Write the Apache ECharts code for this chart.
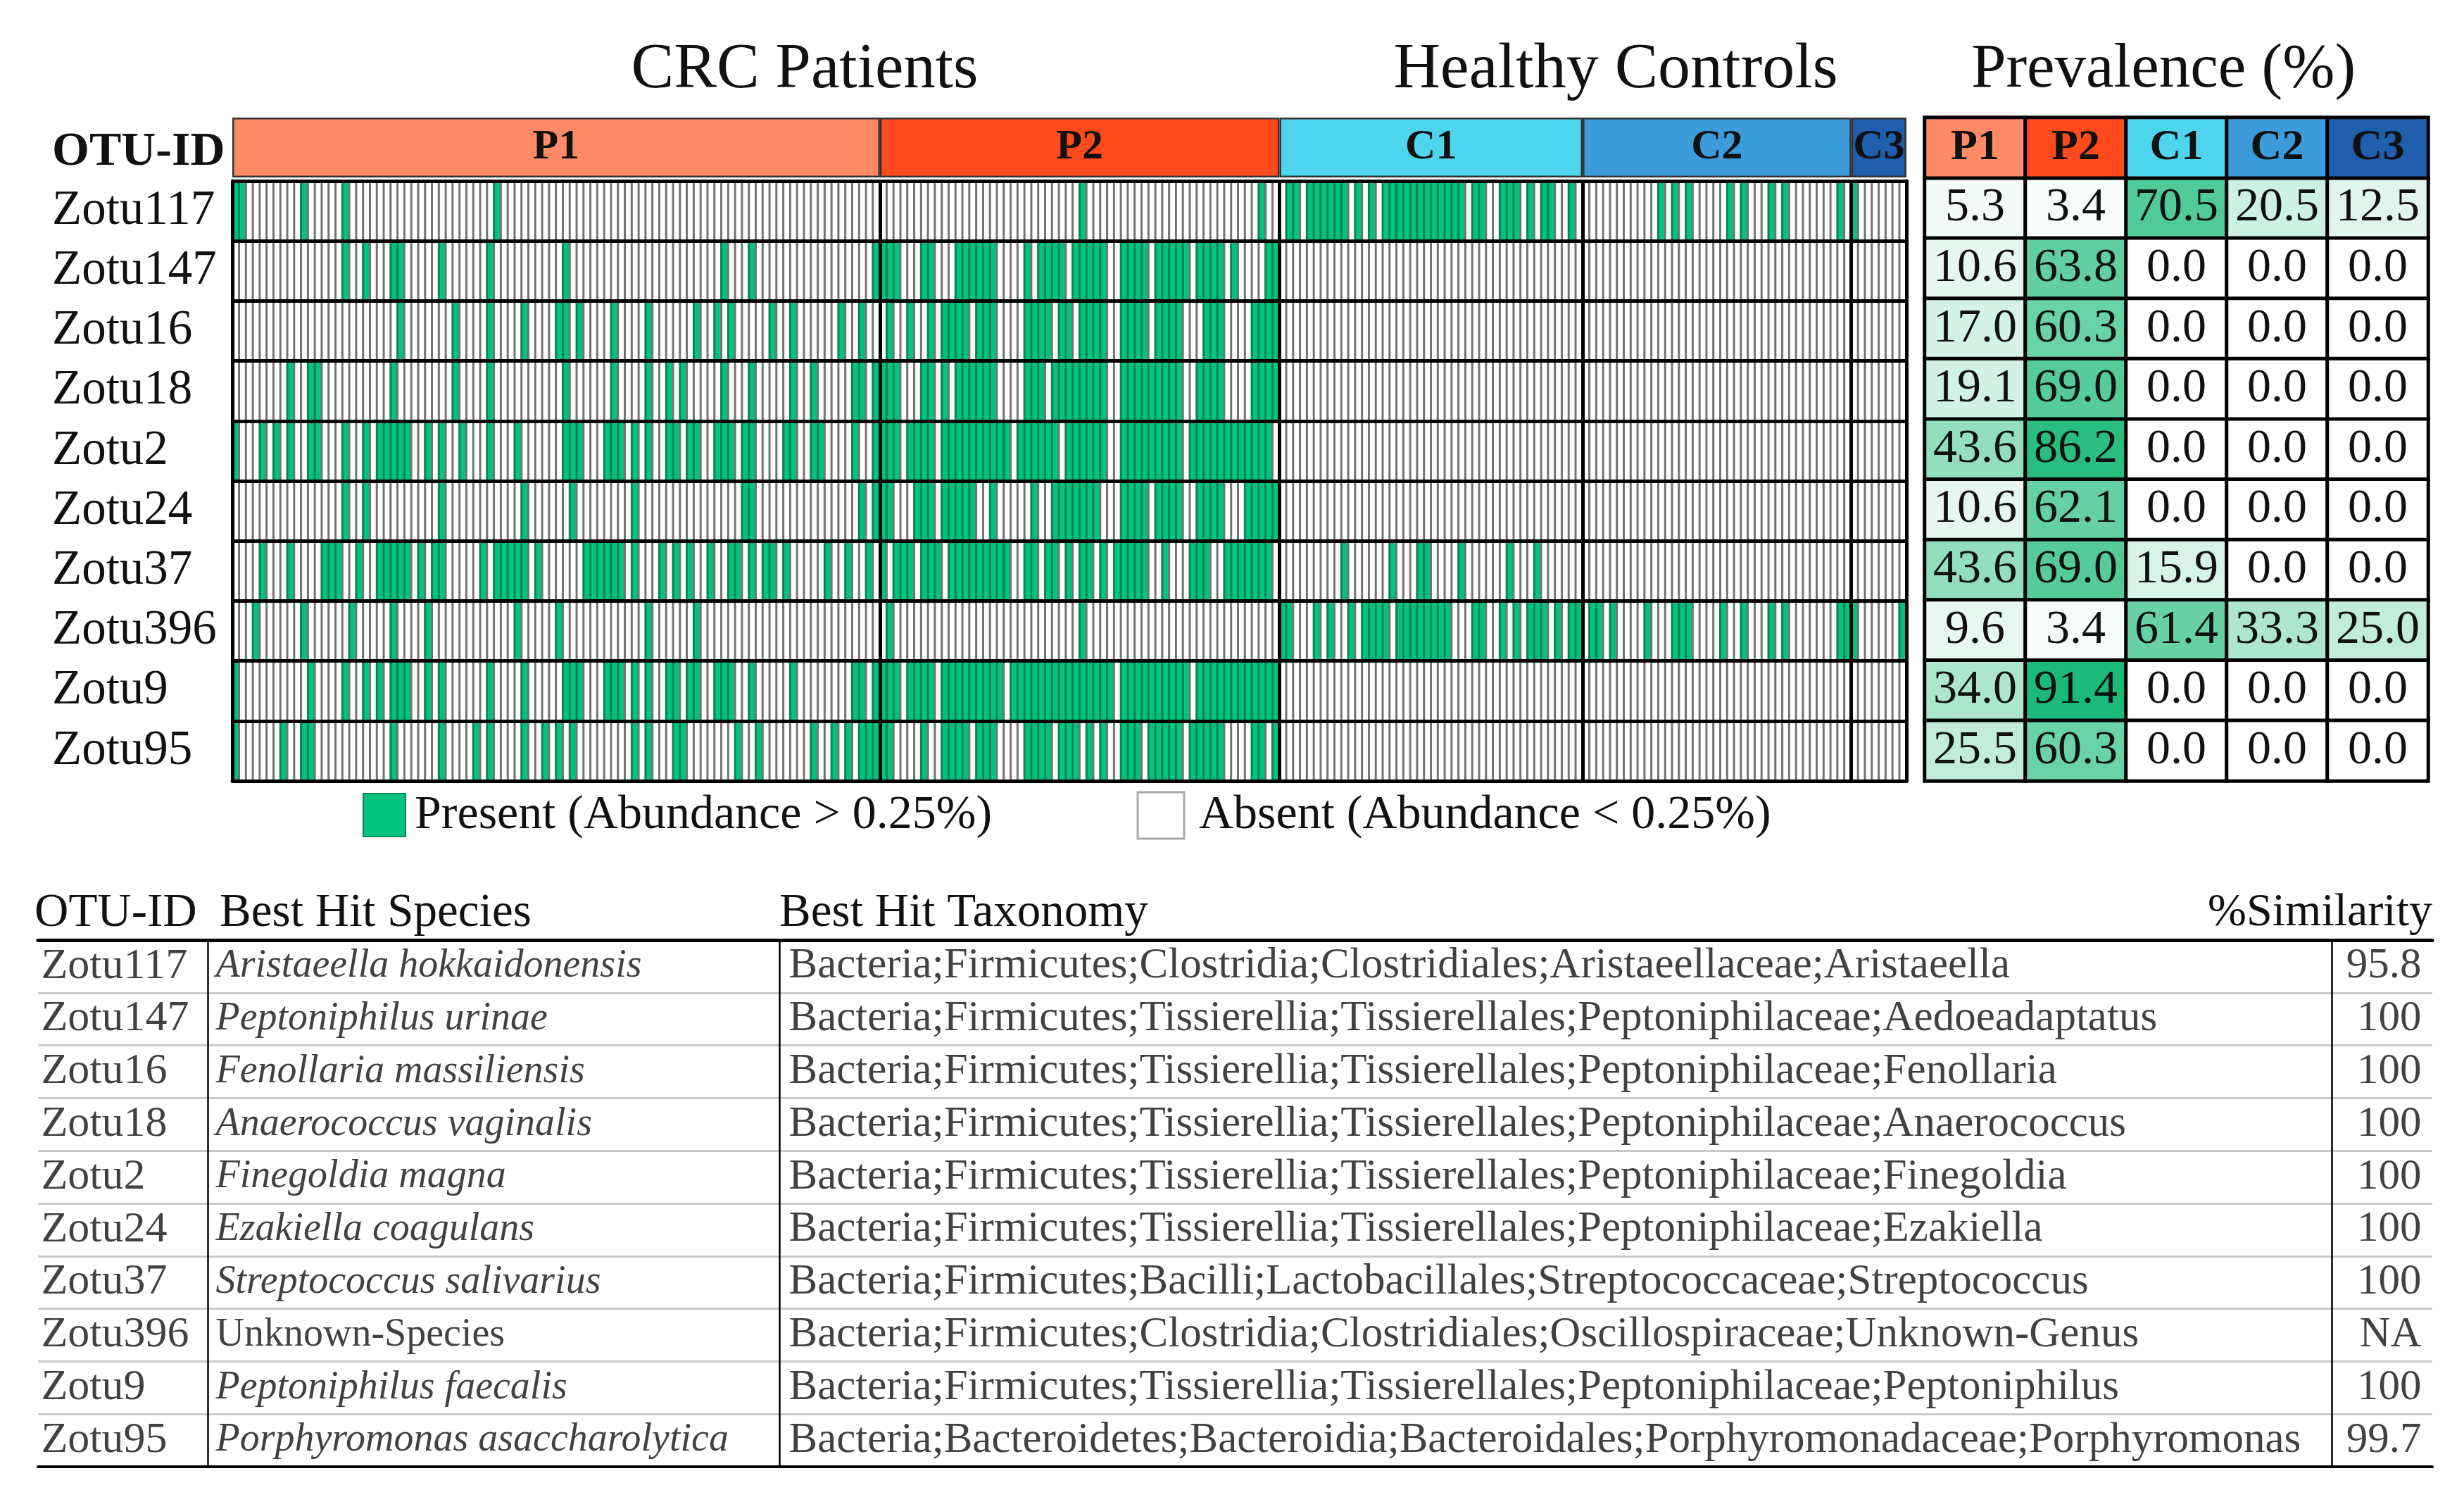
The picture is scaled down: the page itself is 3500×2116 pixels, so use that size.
<!DOCTYPE html>
<html><head><meta charset="utf-8">
<script src="https://cdn.jsdelivr.net/npm/echarts@6/dist/echarts.min.js"></script>
<style>html,body{margin:0;padding:0;background:#fff}#chart{width:3500px;height:2116px}</style>
</head><body><div id="chart"></div>
<script>
// ---------------- DATA ----------------
const groupNames = ['P1', 'P2', 'C1', 'C2', 'C3'];
const groupSizes = [94, 58, 44, 39, 8];
const otuIds = ['Zotu117', 'Zotu147', 'Zotu16', 'Zotu18', 'Zotu2', 'Zotu24', 'Zotu37', 'Zotu396', 'Zotu9', 'Zotu95'];

// column indices (0..242, samples ordered P1,P2,C1,C2,C3) where the OTU is present
const zotu117 = [0,1,10,16,38,123,149,153,154,156,157,158,159,160,161,163,165,167,168,169,170,171,172,173,174,175,176,177,178,180,181,184,185,186,188,190,191,194,207,209,211,217,219,223,225,233,235];
const zotu147 = [16,19,23,24,30,37,48,71,75,93,94,95,96,100,101,105,106,107,108,109,110,115,117,118,119,120,122,123,124,125,126,129,130,131,132,134,135,136,137,138,140,141,142,143,145,150,151];
const zotu16 = [24,32,37,42,47,48,50,55,60,67,70,72,78,81,88,91,95,98,101,103,104,105,106,108,109,110,115,116,117,118,120,121,123,124,125,126,129,130,131,132,134,135,136,137,141,142,143,148,149,150,151];
const zotu18 = [8,11,12,23,32,37,48,55,60,63,65,71,75,81,84,90,91,93,94,95,96,100,101,103,105,106,107,108,109,110,115,116,117,119,120,121,122,123,124,125,126,129,130,131,132,133,134,135,136,137,140,141,142,143,148,149,150,151];
const zotu2 = [0,4,6,8,11,12,16,19,21,22,23,24,25,28,30,33,37,41,48,49,50,54,55,56,58,60,63,64,66,67,70,71,72,74,75,80,81,84,85,90,93,94,95,96,98,99,100,101,103,104,105,106,107,108,109,110,111,112,114,115,116,117,118,119,121,122,123,124,125,126,129,130,131,132,133,134,135,136,137,139,140,141,142,143,144,145,146,147,148,149,150];
const zotu24 = [16,19,30,42,49,58,74,75,91,93,94,95,99,100,101,103,104,105,106,107,110,116,119,120,121,122,123,124,125,129,130,131,132,134,135,136,137,140,141,142,143,147,148,149,150,151];
const zotu37 = [4,8,13,14,15,18,21,22,23,24,25,27,29,30,36,38,39,40,41,42,44,51,52,53,54,55,56,58,62,64,66,69,72,73,75,77,78,80,86,89,92,94,96,97,98,100,101,102,104,105,106,107,108,109,110,111,112,115,116,118,119,121,123,124,126,128,129,130,131,132,135,139,140,141,144,145,146,147,148,149,150,161,168,172,173,178,185,189];
const zotu396 = [3,10,17,23,28,41,47,60,67,95,123,152,153,157,159,162,164,165,166,167,169,170,171,172,173,174,175,176,180,181,184,186,188,189,190,192,194,195,197,198,200,205,209,210,211,216,219,223,225,233,234,235,242];
const zotu9 = [0,11,16,19,21,23,24,25,28,30,37,42,48,49,50,54,55,56,58,60,63,64,66,67,70,71,72,75,81,90,91,93,94,95,96,98,99,100,101,103,104,105,106,107,108,109,110,111,113,114,115,116,117,118,119,120,121,122,123,124,125,126,127,129,130,131,132,133,134,135,136,137,138,140,141,142,143,144,145,146,147,148,149,150,151];
const zotu95 = [0,7,10,11,23,30,35,37,42,45,47,49,58,60,64,65,73,76,84,87,89,91,92,93,94,95,100,103,104,105,106,108,109,110,115,116,117,118,120,121,122,124,126,129,130,131,133,134,135,136,137,139,140,141,142,143,148,149,151];

// prevalence (%) per group, rows in otuIds order
const prevP1 = [5.3, 10.6, 17.0, 19.1, 43.6, 10.6, 43.6, 9.6, 34.0, 25.5];
const prevP2 = [3.4, 63.8, 60.3, 69.0, 86.2, 62.1, 69.0, 3.4, 91.4, 60.3];
const prevC1 = [70.5, 0.0, 0.0, 0.0, 0.0, 0.0, 15.9, 61.4, 0.0, 0.0];
const prevC2 = [20.5, 0.0, 0.0, 0.0, 0.0, 0.0, 0.0, 33.3, 0.0, 0.0];
const prevC3 = [12.5, 0.0, 0.0, 0.0, 0.0, 0.0, 0.0, 25.0, 0.0, 0.0];

const species = ['Aristaeella hokkaidonensis', 'Peptoniphilus urinae', 'Fenollaria massiliensis', 'Anaerococcus vaginalis', 'Finegoldia magna', 'Ezakiella coagulans', 'Streptococcus salivarius', 'Unknown-Species', 'Peptoniphilus faecalis', 'Porphyromonas asaccharolytica'];
const taxonomy = [
  'Bacteria;Firmicutes;Clostridia;Clostridiales;Aristaeellaceae;Aristaeella',
  'Bacteria;Firmicutes;Tissierellia;Tissierellales;Peptoniphilaceae;Aedoeadaptatus',
  'Bacteria;Firmicutes;Tissierellia;Tissierellales;Peptoniphilaceae;Fenollaria',
  'Bacteria;Firmicutes;Tissierellia;Tissierellales;Peptoniphilaceae;Anaerococcus',
  'Bacteria;Firmicutes;Tissierellia;Tissierellales;Peptoniphilaceae;Finegoldia',
  'Bacteria;Firmicutes;Tissierellia;Tissierellales;Peptoniphilaceae;Ezakiella',
  'Bacteria;Firmicutes;Bacilli;Lactobacillales;Streptococcaceae;Streptococcus',
  'Bacteria;Firmicutes;Clostridia;Clostridiales;Oscillospiraceae;Unknown-Genus',
  'Bacteria;Firmicutes;Tissierellia;Tissierellales;Peptoniphilaceae;Peptoniphilus',
  'Bacteria;Bacteroidetes;Bacteroidia;Bacteroidales;Porphyromonadaceae;Porphyromonas'
];
const similarity = ['95.8', '100', '100', '100', '100', '100', '100', 'NA', '100', '99.7'];

// ---------------- STYLE / LAYOUT ----------------
const FONT = '"Liberation Serif", "Times New Roman", serif';
const groupColors = ['#FF8A66', '#FF4A1E', '#4FD4EE', '#3C9BDA', '#1F5FAE'];
const GREEN = '#03C47F';
const INK = '#111111';

const presentRows = [zotu117, zotu147, zotu16, zotu18, zotu2, zotu24, zotu37, zotu396, zotu9, zotu95];
const prevByGroup = [prevP1, prevP2, prevC1, prevC2, prevC3];

const sampleIds = [];
groupNames.forEach((g, gi) => { for (let i = 0; i < groupSizes[gi]; i++) sampleIds.push(g + '_' + (i + 1)); });
const boundaries = [];
groupSizes.reduce((acc, s) => { boundaries.push(acc + s); return acc + s; }, 0);
boundaries.pop();

const heatData = [];
presentRows.forEach((cols, r) => {
  const set = new Set(cols);
  for (let c = 0; c < sampleIds.length; c++) {
    const v = set.has(c) ? 1 : 0;
    const item = { value: [c, r, v] };
    if (v) item.itemStyle = { borderColor: '#0C8556' };
    heatData.push(item);
  }
});

const prevData = [];
prevByGroup.forEach((arr, gi) => arr.forEach((v, r) => prevData.push([groupNames[gi], otuIds[r], v])));
const hdrData = groupNames.map((g, gi) => [g, 'hdr', gi]);

// bottom table layout (pixel units inside the table grid)
const TBL_W = 3401;
const colX = { otu: 4, species: 252, tax: 1066, sim: 3386 };
const vLines = [241, 1053, 3258];

const series = [];
// group header bar (stacked)
groupNames.forEach((g, gi) => {
  series.push({
    type: 'bar', name: g, stack: 'grp', xAxisIndex: 0, yAxisIndex: 0,
    data: [groupSizes[gi]], barWidth: '100%',
    itemStyle: { color: groupColors[gi], borderColor: '#333', borderWidth: 2.5 },
    label: { show: true, position: 'inside', formatter: g, fontFamily: FONT, fontWeight: 'bold', fontSize: 60, color: INK },
    emphasis: { disabled: true }, silent: true
  });
});
const heatIdx = series.length;
series.push({
  type: 'heatmap', xAxisIndex: 1, yAxisIndex: 1, data: heatData, progressive: 0,
  itemStyle: { borderColor: '#747474', borderWidth: 3 },
  emphasis: { disabled: true }, silent: true
});
const prevIdx = series.length;
series.push({
  type: 'heatmap', xAxisIndex: 2, yAxisIndex: 3, data: prevData, progressive: 0,
  itemStyle: { borderColor: '#000', borderWidth: 5 },
  label: { show: true, formatter: p => p.data[2].toFixed(1), fontFamily: FONT, fontSize: 68, color: INK },
  emphasis: { disabled: true }, silent: true
});
const hdrIdx = series.length;
series.push({
  type: 'heatmap', xAxisIndex: 2, yAxisIndex: 3, data: hdrData, progressive: 0,
  itemStyle: { borderColor: '#000', borderWidth: 5 },
  label: { show: true, formatter: p => groupNames[p.data[2]], fontFamily: FONT, fontWeight: 'bold', fontSize: 62, color: INK },
  emphasis: { disabled: true }, silent: true
});

function textSeries(x, texts, pos, size, styler) {
  return {
    type: 'scatter', xAxisIndex: 3, yAxisIndex: 4, symbolSize: 1, itemStyle: { color: 'rgba(0,0,0,0)' },
    data: texts.map((t, i) => {
      const d = { value: [x, otuIds[i]], name: t };
      if (styler) d.label = styler(t, i);
      return d;
    }),
    label: { show: true, position: pos, distance: 0, formatter: '{b}', fontFamily: FONT, fontSize: size, color: INK },
    emphasis: { disabled: true }, silent: true
  };
}
const t1 = textSeries(colX.otu, otuIds, 'right', 62);
t1.markLine = {
  silent: true, symbol: ['none', 'none'], label: { show: false },
  lineStyle: { color: '#000', width: 2.5, type: 'solid' },
  data: vLines.map(v => ({ xAxis: v }))
};
series.push(t1);
series.push(textSeries(colX.species, species, 'right', 56, (t) => ({ fontStyle: t.startsWith('Unknown') ? 'normal' : 'italic' })));
series.push(textSeries(colX.tax, taxonomy, 'right', 61));
series.push(textSeries(colX.sim, similarity, 'left', 61));

const hidden = { axisLabel: { show: false }, axisTick: { show: false }, axisLine: { show: false }, splitLine: { show: false } };

const option = {
  animation: false,
  backgroundColor: '#fff',
  grid: [
    { left: 330, top: 167, width: 2378, height: 85 },
    { left: 330, top: 257, width: 2378, height: 852 },
    { left: 2734, top: 167, width: 715, height: 942 },
    { left: 54, top: 1335, width: TBL_W, height: 748 }
  ],
  xAxis: [
    Object.assign({ gridIndex: 0, type: 'value', min: 0, max: sampleIds.length }, hidden),
    {
      gridIndex: 1, type: 'category', data: sampleIds, z: 5,
      axisLabel: { show: false }, axisTick: { show: false },
      axisLine: { show: true, lineStyle: { color: '#000', width: 5 } },
      splitLine: { show: true, interval: (i) => boundaries.includes(i), lineStyle: { color: '#000', width: 5 } }
    },
    Object.assign({ gridIndex: 2, type: 'category', data: groupNames }, hidden),
    {
      gridIndex: 3, type: 'value', min: 0, max: TBL_W, position: 'top',
      axisLabel: { show: false }, axisTick: { show: false }, splitLine: { show: false },
      axisLine: { show: true, lineStyle: { color: '#000', width: 5 } }, z: 5
    },
    {
      gridIndex: 3, type: 'value', min: 0, max: TBL_W, position: 'bottom',
      axisLabel: { show: false }, axisTick: { show: false }, splitLine: { show: false },
      axisLine: { show: true, lineStyle: { color: '#000', width: 4 } }, z: 5
    }
  ],
  yAxis: [
    Object.assign({ gridIndex: 0, type: 'category', data: ['grp'] }, hidden),
    {
      gridIndex: 1, type: 'category', data: otuIds, inverse: true, z: 5,
      axisLabel: { show: true, interval: 0, align: 'left', margin: 256, fontFamily: FONT, fontSize: 69, color: INK },
      axisTick: { show: false },
      axisLine: { show: true, lineStyle: { color: '#000', width: 5 } },
      splitLine: { show: true, interval: 0, lineStyle: { color: '#000', width: 5 } }
    },
    {
      gridIndex: 1, type: 'category', data: otuIds, inverse: true, position: 'right', z: 5,
      axisLabel: { show: false }, axisTick: { show: false }, splitLine: { show: false },
      axisLine: { show: true, lineStyle: { color: '#000', width: 5 } }
    },
    Object.assign({ gridIndex: 2, type: 'category', data: ['hdr'].concat(otuIds), inverse: true }, hidden),
    {
      gridIndex: 3, type: 'category', data: otuIds, inverse: true,
      axisLabel: { show: false }, axisTick: { show: false }, axisLine: { show: false },
      splitLine: { show: true, interval: 0, lineStyle: { color: '#C9C9C9', width: 3 } }
    }
  ],
  visualMap: [
    { type: 'piecewise', show: false, seriesIndex: heatIdx, dimension: 2,
      pieces: [{ value: 1, color: GREEN }, { value: 0, color: '#FFFFFF' }] },
    { type: 'continuous', show: false, seriesIndex: prevIdx, dimension: 2, min: 0, max: 100,
      inRange: { color: ['#FFFFFF', '#07B46B'] } },
    { type: 'piecewise', show: false, seriesIndex: hdrIdx, dimension: 2,
      pieces: groupColors.map((c, i) => ({ value: i, color: c })) }
  ],
  graphic: [
    { type: 'text', x: 1143, y: 100, style: { text: 'CRC Patients', font: '91px ' + FONT, fill: INK, textAlign: 'center', textVerticalAlign: 'middle' } },
    { type: 'text', x: 2295, y: 100, style: { text: 'Healthy Controls', font: '92px ' + FONT, fill: INK, textAlign: 'center', textVerticalAlign: 'middle' } },
    { type: 'text', x: 3073, y: 100, style: { text: 'Prevalence (%)', font: '89px ' + FONT, fill: INK, textAlign: 'center', textVerticalAlign: 'middle' } },
    { type: 'text', x: 74, y: 216, style: { text: 'OTU-ID', font: 'bold 68px ' + FONT, fill: INK, textAlign: 'left', textVerticalAlign: 'middle' } },
    { type: 'rect', shape: { x: 516, y: 1127, width: 60, height: 61 }, style: { fill: GREEN, stroke: '#0C8556', lineWidth: 2 } },
    { type: 'text', x: 589, y: 1158, style: { text: 'Present (Abundance > 0.25%)', font: '68px ' + FONT, fill: INK, textAlign: 'left', textVerticalAlign: 'middle' } },
    { type: 'rect', shape: { x: 1616, y: 1125, width: 66, height: 66 }, style: { fill: '#FFFFFF', stroke: '#A8A8A8', lineWidth: 3 } },
    { type: 'text', x: 1703, y: 1158, style: { text: 'Absent (Abundance < 0.25%)', font: '68px ' + FONT, fill: INK, textAlign: 'left', textVerticalAlign: 'middle' } },
    { type: 'text', x: 49, y: 1297, style: { text: 'OTU-ID', font: '67px ' + FONT, fill: INK, textAlign: 'left', textVerticalAlign: 'middle' } },
    { type: 'text', x: 312, y: 1297, style: { text: 'Best Hit Species', font: '67px ' + FONT, fill: INK, textAlign: 'left', textVerticalAlign: 'middle' } },
    { type: 'text', x: 1107, y: 1297, style: { text: 'Best Hit Taxonomy', font: '67px ' + FONT, fill: INK, textAlign: 'left', textVerticalAlign: 'middle' } },
    { type: 'text', x: 3455, y: 1297, style: { text: '%Similarity', font: '66px ' + FONT, fill: INK, textAlign: 'right', textVerticalAlign: 'middle' } }
  ],
  series: series
};

const chart = echarts.init(document.getElementById('chart'), null, { renderer: 'canvas' });
chart.setOption(option);
</script>
</body></html>
